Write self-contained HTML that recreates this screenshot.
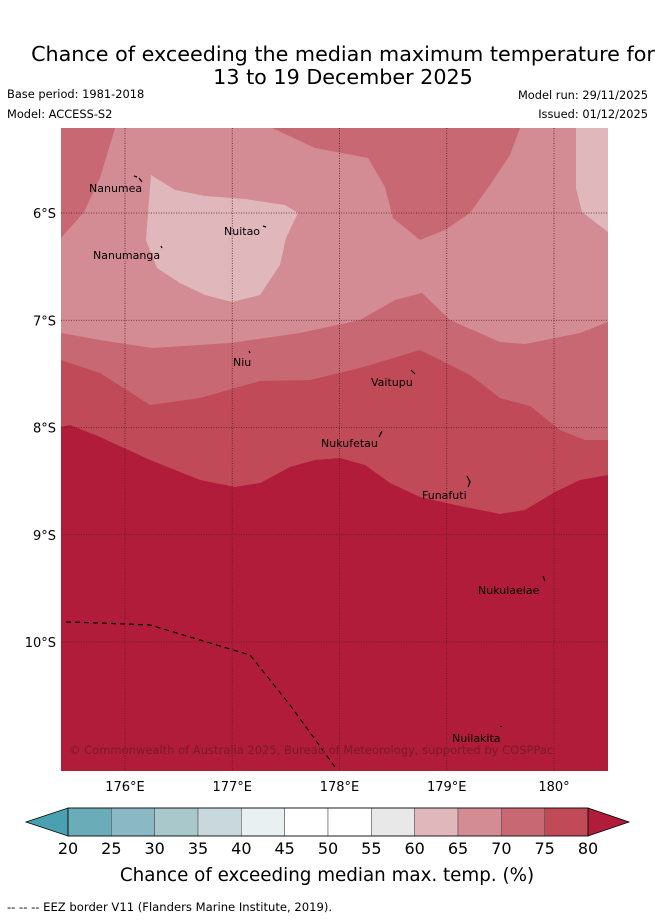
<!DOCTYPE html>
<html><head><meta charset="utf-8"><style>
body{margin:0;background:#fff;font-family:"Liberation Sans","DejaVu Sans",sans-serif;}
svg text{font-family:"DejaVu Sans","Liberation Sans",sans-serif;}
</style></head><body>
<svg id="chart" width="655" height="919" xmlns="http://www.w3.org/2000/svg">
<text x="343" y="61" font-size="20.7" text-anchor="middle" fill="#000">Chance of exceeding the median maximum temperature for</text>
<text x="343" y="84" font-size="20.7" text-anchor="middle" fill="#000">13 to 19 December 2025</text>
<text x="7" y="98" font-size="11.4">Base period: 1981-2018</text>
<text x="7" y="118" font-size="11.4">Model: ACCESS-S2</text>
<text x="648" y="99" font-size="11.4" text-anchor="end">Model run: 29/11/2025</text>
<text x="648" y="118" font-size="11.4" text-anchor="end">Issued: 01/12/2025</text>
<defs><clipPath id="mapclip"><rect x="61" y="128" width="547" height="643"/></clipPath></defs>
<g id="map" clip-path="url(#mapclip)">
<rect x="61" y="128" width="547" height="643" fill="#d48c94"/>
<polygon fill="#c86872" points="61,128 115,128 100,178 84,212 61,238"/>
<polygon fill="#c86872" points="272,128 520,128 510,155 490,185 470,213 445,230 420,240 393,218 385,187 368,158 315,148"/>
<polygon fill="#e0b8bc" points="576,128 608,128 608,232 582,212 576,188"/>
<polygon fill="#e0b8bc" points="151,175 175,190 205,196 245,199 285,205 298,213 286,238 280,265 260,295 232,302 205,295 180,283 157,268 146,240 148,213"/>
<polygon fill="#c86872" points="61,333 100,340 152,348 230,343 300,333 360,320 395,300 422,293 450,320 500,342 525,344 580,333 608,322 608,771 61,771"/>
<polygon fill="#c04a58" points="61,360 100,373 150,405 200,398 260,381 310,380 360,368 420,350 470,375 500,398 530,406 560,430 585,440 608,440 608,771 61,771"/>
<polygon fill="#b01c3a" points="61,427 70,425 100,437 150,460 200,480 235,487 260,483 290,467 315,460 340,458 365,465 390,483 420,497 460,506 500,514 525,510 555,492 580,480 608,475 608,771 61,771"/>
<g id="grid"></g>
<polyline fill="none" stroke="#000" stroke-width="1.2" stroke-dasharray="5,4" points="66,622 100,623 150,625 200,640 250,655 290,705 335,767"/>
<g stroke="#000" stroke-width="1.2" fill="none">
<path d="M134,176 L137,177 M139,178 L142,182"/><path d="M263,226 L266,227"/><path d="M161,246 L162,248"/><path d="M249,351 L250,353"/><path d="M411,370 L415,374"/><path d="M382,431 L379,437"/><path d="M467,476 L470,482 L468,487"/><path d="M543,576 L545,581"/><path d="M500,726 L502,727"/>
</g>
<g font-size="11" fill="#000">
<text x="89" y="192">Nanumea</text>
<text x="224" y="235">Nuitao</text>
<text x="93" y="259">Nanumanga</text>
<text x="233" y="366">Niu</text>
<text x="371" y="386">Vaitupu</text>
<text x="321" y="447">Nukufetau</text>
<text x="422" y="499">Funafuti</text>
<text x="478" y="594">Nukulaelae</text>
<text x="452" y="742">Nuilakita</text>
</g>
<text x="69" y="754" font-size="11.5" fill="#7a1a2a">© Commonwealth of Australia 2025, Bureau of Meteorology, supported by COSPPac</text>
</g>
<g id="axes"></g>
<g id="colorbar"></g>
<text x="327" y="881" font-size="18.3" text-anchor="middle">Chance of exceeding median max. temp. (%)</text>
<text x="7" y="911" font-size="11.6">-- -- -- EEZ border V11 (Flanders Marine Institute, 2019).</text>
</svg>
<script>
const lonTicks=[176,177,178,179,180];
const lonLabels=["176°E","177°E","178°E","179°E","180°"];
const latTicks=[6,7,8,9,10];
const latLabels=["6°S","7°S","8°S","9°S","10°S"];
const cbLevels=[20,25,30,35,40,45,50,55,60,65,70,75,80];
const cbColors=["#6aacb8","#8ab8c4","#a8c8cc","#c8d8dc","#e8f0f2","#ffffff","#ffffff","#e8e8e8","#e0b8bc","#d48c94","#c86872","#c04a58"];
const NS="http://www.w3.org/2000/svg";
const xLon=l=>125+(l-176)*107.25;
const yLat=l=>213+(l-6)*107.25;
const cbX=v=>68+(v-20)*(520/60);
function mk(t,a,p){const e=document.createElementNS(NS,t);for(const k in a)e.setAttribute(k,a[k]);p.appendChild(e);return e;}
const grid=document.getElementById('grid'),axes=document.getElementById('axes'),cb=document.getElementById('colorbar');
lonTicks.forEach((l,i)=>{const x=xLon(l);
 const g=mk('line',{x1:x,x2:x,y1:128,y2:771,stroke:'#5a1a24','stroke-width':0.8,'stroke-dasharray':'1,1.5'},grid);
 
 const t=mk('text',{x:x,y:791,'font-size':13,'text-anchor':'middle'},axes);t.textContent=lonLabels[i];
 });
latTicks.forEach((l,i)=>{const y=yLat(l);
 const g=mk('line',{x1:61,x2:608,y1:y,y2:y,stroke:'#5a1a24','stroke-width':0.8,'stroke-dasharray':'1,1.5'},grid);
 
 const t=mk('text',{x:56,y:y+5,'font-size':13,'text-anchor':'end'},axes);t.textContent=latLabels[i];
 });
const lo=mk('polygon',{points:`26,822 ${cbX(20)},808 ${cbX(20)},836`,fill:'#48a0b0',stroke:'#000','stroke-width':0.8},cb);

const hi=mk('polygon',{points:`${cbX(80)},808 629,822 ${cbX(80)},836`,fill:'#b01c3a',stroke:'#000','stroke-width':0.8},cb);

for(let i=0;i<cbColors.length;i++){const x0=cbX(cbLevels[i]),x1=cbX(cbLevels[i+1]);
 const r=mk('rect',{x:x0,y:808,width:x1-x0,height:28,fill:cbColors[i],stroke:'#555','stroke-width':0.6},cb);
 }
mk('rect',{x:cbX(20),y:808,width:cbX(80)-cbX(20),height:28,fill:'none',stroke:'#000','stroke-width':0.8},cb);
cbLevels.forEach(v=>{const t=mk('text',{x:cbX(v),y:854,'font-size':16,'text-anchor':'middle'},cb);t.textContent=v;
 });
</script>
</body></html>
